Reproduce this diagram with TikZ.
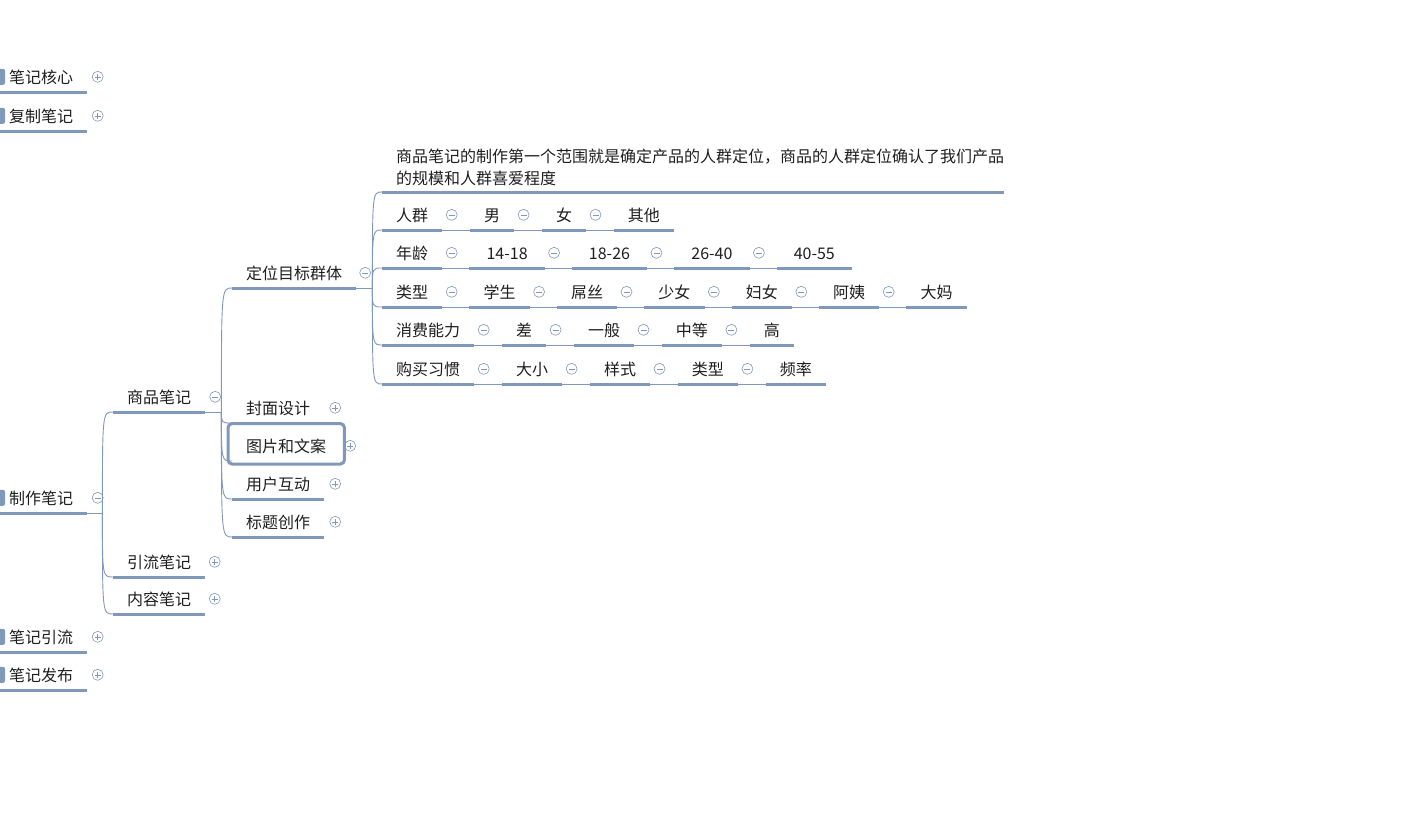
\documentclass[tikz,border=0pt]{standalone}
\usepackage{fontspec}
\setmainfont{Noto Sans CJK SC}
\usetikzlibrary{positioning,calc}
\definecolor{lc}{HTML}{8098BA}
\definecolor{ink}{HTML}{1E1E1E}
\tikzset{
  topic/.style={font=\fontsize{16}{22}\selectfont, text=ink, inner xsep=14pt, inner ysep=0pt,
    minimum height=30pt, text height=14pt, text depth=0pt, anchor=south west},
  num/.style={topic, minimum width=75pt},
  note/.style={topic, align=left, text height={}, text depth={}, inner ysep=6pt},
  uline/.style={draw=lc, line width=3pt},
  link/.style={draw=lc, line width=0.9pt},
  selbox/.style={draw=lc, line width=3pt, rounded corners=4pt},
  fold/.style={circle, draw=lc, line width=0.6pt, minimum size=11pt, inner sep=0pt, anchor=west},
  plus/.style={fold, path picture={\draw[lc, line width=0.6pt]
      ([xshift=-3pt]path picture bounding box.center) -- ([xshift=3pt]path picture bounding box.center)
      ([yshift=-3pt]path picture bounding box.center) -- ([yshift=3pt]path picture bounding box.center);}},
  minus/.style={fold, path picture={\draw[lc, line width=0.6pt]
      ([xshift=-3pt]path picture bounding box.center) -- ([xshift=3pt]path picture bounding box.center);}},
}
\begin{document}
\begin{tikzpicture}[x=1pt, y=-1pt]
\useasboundingbox (0,0) rectangle (1416,828);

% left column
\node[topic] (core) at (-5,92) {笔记核心};
\node[topic] (copy) at (-5,131) {复制笔记};
\node[topic] (make) at (-5,513) {制作笔记};
\node[topic] (flow) at (-5,652) {笔记引流};
\node[topic] (pub) at (-5,690) {笔记发布};
\node[plus, right=4.5pt of core.east] (coreT) {};
\node[plus, right=4.5pt of copy.east] (copyT) {};
\node[minus, right=4.5pt of make.east] (makeT) {};
\node[plus, right=4.5pt of flow.east] (flowT) {};
\node[plus, right=4.5pt of pub.east] (pubT) {};
\foreach \n in {core,copy,make,flow,pub}
  \fill[lc, rounded corners=2pt] ([xshift=3pt,yshift=8pt]\n.west) rectangle ([xshift=10pt,yshift=-8pt]\n.west);

% level 1
\node[topic] (goods) at (113,412) {商品笔记};
\node[topic] (lead) at (113,577) {引流笔记};
\node[topic] (cont) at (113,614) {内容笔记};
\node[minus, right=4pt of goods.east] (goodsT) {};
\node[plus, right=3.5pt of lead.east] (leadT) {};
\node[plus, right=3.5pt of cont.east] (contT) {};

% level 2
\node[topic] (aim) at (232,288) {定位目标群体};
\node[topic] (cover) at (232,423) {封面设计};
\node[topic] (pic) at (232,461) {图片和文案};
\node[topic] (inter) at (232,499) {用户互动};
\node[topic] (title) at (232,537) {标题创作};
\draw[selbox] ([xshift=-4pt,yshift=7pt]pic.north west) rectangle ([xshift=4pt,yshift=-3pt]pic.south east);
\node[minus, right=3pt of aim.east] (aimT) {};
\node[plus, right=5pt of cover.east] (coverT) {};
\node[plus, right=4pt of pic.east] (picT) {};
\node[plus, right=5pt of inter.east] (interT) {};
\node[plus, right=5pt of title.east] (titleT) {};

% level 3
\node[note] (desc) at (382,192) {商品笔记的制作第一个范围就是确定产品的人群定位，商品的人群定位确认了我们产品\\的规模和人群喜爱程度};
\node[topic] (crowd) at (382,230) {人群};
\node[topic] (age) at (382,268) {年龄};
\node[topic] (kind) at (382,307) {类型};
\node[topic] (power) at (382,345) {消费能力};
\node[topic] (habit) at (382,384) {购买习惯};

\node[topic, right=27.5pt of crowd] (male) {男};
\node[topic, right=27.5pt of male] (female) {女};
\node[topic, right=27.5pt of female] (other) {其他};

\node[num, right=27pt of age] (a1) {14-18};
\node[num, right=27pt of a1] (a2) {18-26};
\node[num, right=27pt of a2] (a3) {26-40};
\node[num, right=27pt of a3] (a4) {40-55};

\node[topic, right=27pt of kind] (k1) {学生};
\node[topic, right=27pt of k1] (k2) {屌丝};
\node[topic, right=27pt of k2] (k3) {少女};
\node[topic, right=27pt of k3] (k4) {妇女};
\node[topic, right=27pt of k4] (k5) {阿姨};
\node[topic, right=27pt of k5] (k6) {大妈};

\node[topic, right=27.5pt of power] (p1) {差};
\node[topic, right=27.5pt of p1] (p2) {一般};
\node[topic, right=27.5pt of p2] (p3) {中等};
\node[topic, right=27.5pt of p3] (p4) {高};

\node[topic, right=27.5pt of habit] (h1) {大小};
\node[topic, right=27.5pt of h1] (h2) {样式};
\node[topic, right=27.5pt of h2] (h3) {类型};
\node[topic, right=27.5pt of h3] (h4) {频率};

\foreach \n in {crowd,male,female,age,a1,a2,a3,kind,k1,k2,k3,k4,k5,power,p1,p2,p3,habit,h1,h2,h3}
  \node[minus, right=3.5pt of \n.east] (\n T) {};

% underlines
\foreach \n in {core,copy,make,flow,pub,goods,lead,cont,aim,cover,inter,title,
    crowd,male,female,other,age,a1,a2,a3,a4,kind,k1,k2,k3,k4,k5,k6,power,p1,p2,p3,p4,habit,h1,h2,h3,h4}
  \draw[uline] (\n.south west) -- (\n.south east);
\draw[uline] (desc.south west) -- ([xshift=-14pt]desc.south east);

% row links
\foreach \a/\b in {crowd/male,male/female,female/other,age/a1,a1/a2,a2/a3,a3/a4,
    kind/k1,k1/k2,k2/k3,k3/k4,k4/k5,k5/k6,power/p1,p1/p2,p2/p3,p3/p4,habit/h1,h1/h2,h2/h3,h3/h4}
  \draw[link] (\a.south east) -- (\b.south west);

% tree links
\coordinate (j1) at ([xshift=15pt]make.south east);
\draw[link] (make.south east) -- (j1);
\foreach \c in {goods,lead,cont}
  \draw[link] (j1) .. controls (j1 |- \c.south west) .. (\c.south west);

\coordinate (j2) at ([xshift=16pt]goods.south east);
\draw[link] (goods.south east) -- (j2);
\foreach \c in {aim,cover,pic,inter,title}
  \draw[link] (j2) .. controls (j2 |- \c.south west) .. (\c.south west);

\coordinate (j3) at ([xshift=16pt]aim.south east);
\draw[link] (aim.south east) -- (j3);
\foreach \c in {desc,crowd,age,kind,power,habit}
  \draw[link] (j3) .. controls (j3 |- \c.south west) .. (\c.south west);
\end{tikzpicture}
\end{document}
